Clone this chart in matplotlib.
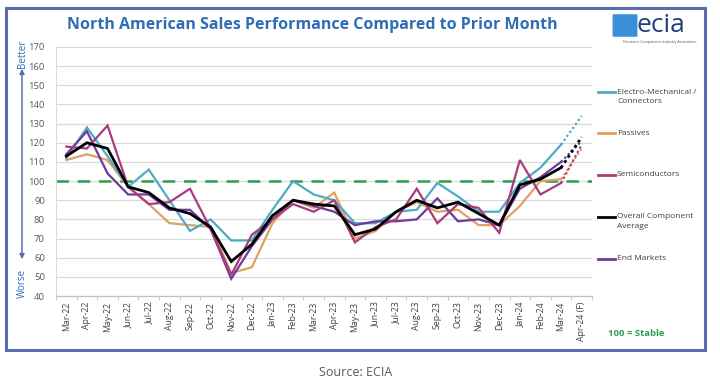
import matplotlib
matplotlib.use("Agg")
import matplotlib.pyplot as plt
from matplotlib.patches import Rectangle, FancyArrowPatch, FancyBboxPatch
from matplotlib.lines import Line2D

plt.rcParams['font.family'] = ['Open Sans', 'DejaVu Sans']

months = ["Mar-22", "Apr-22", "May-22", "Jun-22", "Jul-22", "Aug-22", "Sep-22", "Oct-22",
          "Nov-22", "Dec-22", "Jan-23", "Feb-23", "Mar-23", "Apr-23", "May-23", "Jun-23",
          "Jul-23", "Aug-23", "Sep-23", "Oct-23", "Nov-23", "Dec-23", "Jan-24", "Feb-24",
          "Mar-24", "Apr-24 (F)"]

electro = [112, 128, 113, 97, 106, 90, 74, 80, 69, 69, 85, 100, 93, 90, 78, 78, 84, 85,
           99, 92, 84, 84, 99, 107, 119]
passives = [111, 114, 111, 97, 88, 78, 77, 76, 52, 55, 78, 90, 86, 94, 70, 74, 84, 89,
            84, 85, 77, 77, 87, 100, 101]
semis = [118, 117, 129, 97, 88, 89, 96, 75, 51, 72, 80, 88, 84, 90, 68, 76, 80, 96,
         78, 88, 86, 73, 111, 93, 99]
overall = [113, 120, 117, 97, 94, 86, 83, 76, 58, 67, 82, 90, 88, 87, 72, 75, 84, 90,
           86, 89, 83, 77, 98, 101, 107]
end_markets = [114, 126, 104, 93, 93, 85, 85, 75, 49, 66, 80, 90, 87, 84, 77, 79, 79, 80,
               91, 79, 80, 77, 96, 102, 110]

forecast = {"electro": 134, "passives": 117, "semis": 119, "overall": 123, "end_markets": 121}

series = [
    ("Electro-Mechanical /\nConnectors", electro, forecast["electro"], "#4BACC6"),
    ("Passives", passives, forecast["passives"], "#E3A05E"),
    ("Semiconductors", semis, forecast["semis"], "#A83C7C"),
    ("Overall Component\nAverage", overall, forecast["overall"], "#000000"),
    ("End Markets", end_markets, forecast["end_markets"], "#6E3A9E"),
]
draw_order = [1, 0, 4, 2, 3]

fig = plt.figure(figsize=(7.2, 3.86), dpi=100)
W, H = 720, 386

def fx(px):
    return px / W

def fy(py):
    return 1 - py / H

ax = fig.add_axes([fx(56), fy(296), fx(592) - fx(56), fy(47) - fy(296)])
x = list(range(len(months)))
n = len(electro)
for i in draw_order:
    label, vals, fc, col = series[i]
    lw = 2.0 if col == "#000000" else 1.6
    ax.plot(x[:n], vals, color=col, lw=lw, solid_joinstyle='miter', zorder=3 + (i == 3))
    ax.plot([x[n - 1], x[n]], [vals[-1], fc], color=col, lw=lw, ls=(0, (1, 1.2)), zorder=3)

ax.axhline(100, color="#2E9E4F", lw=1.8, ls=(0, (5, 3.5)), zorder=2)

ax.set_ylim(40, 170)
ax.set_xlim(-0.5, len(months) - 0.5)
ax.set_yticks(range(40, 171, 10))
ax.yaxis.grid(True, color="#D9D9D9", lw=0.9)
ax.set_axisbelow(True)
ax.tick_params(axis='y', length=0, labelsize=6.8, colors="#595959", pad=8)
ax.set_xticks(x)
ax.set_xticklabels(months, rotation=90, fontsize=6.3, color="#404040")
ax.set_xticks([i + 0.5 for i in range(-1, len(months))], minor=True)
ax.tick_params(axis='x', which='major', length=0, pad=4)
ax.tick_params(axis='x', which='minor', length=3, color="#BFBFBF")
for s in ["top", "right"]:
    ax.spines[s].set_visible(False)
ax.spines["left"].set_color("#D9D9D9")
ax.spines["bottom"].set_color("#BFBFBF")

# frame
fig.add_artist(Rectangle((fx(6), fy(350)), fx(705) - fx(6), fy(8) - fy(350),
                         transform=fig.transFigure, fill=False, ec="#5A6DAE", lw=2.2))

# title
fig.text(fx(312), fy(25), "North American Sales Performance Compared to Prior Month",
         ha="center", va="center", fontsize=11.5, fontweight="bold", color="#2F6EB5")

# logo
fig.add_artist(FancyBboxPatch((fx(614), fy(36)), fx(22), fy(15) - fy(36),
                              boxstyle="round,pad=0.002", transform=fig.transFigure,
                              fc="#3B8FD8", ec="none"))
fig.text(fx(637), fy(26), "ecia", ha="left", va="center", fontsize=19, color="#1F3F7A")
fig.text(fx(660), fy(42), "Electronic Components Industry Association", ha="center",
         va="center", fontsize=2.6, color="#555555")

# Better / Worse arrow
fig.add_artist(FancyArrowPatch((fx(22), fy(262)), (fx(22), fy(66)), transform=fig.transFigure,
                               arrowstyle="<|-|>", mutation_scale=7, color="#5A6DAE", lw=1.1))
fig.text(fx(22), fy(54), "Better", rotation=90, ha="center", va="center",
         fontsize=7, color="#2F6EB5")
fig.text(fx(22), fy(283), "Worse", rotation=90, ha="center", va="center",
         fontsize=7, color="#2F6EB5")

# legend
legend_y = [92, 133, 175, 217, 259]
for (label, vals, fc, col), ly in zip(series, legend_y):
    fig.add_artist(Line2D([fx(598), fx(615)], [fy(ly), fy(ly)], transform=fig.transFigure,
                          color=col, lw=2))
    fig.text(fx(617), fy(ly - 3.5), label, ha="left", va="top", fontsize=6,
             color="#404040", linespacing=1.5)

fig.text(fx(608), fy(333), "100 = Stable", ha="left", va="center", fontsize=6.8,
         color="#2E9E4F", fontweight="bold")

fig.text(fx(356), fy(373), "Source: ECIA", ha="center", va="center", fontsize=9,
         color="#595959")

fig.savefig("out.png", dpi=100)
